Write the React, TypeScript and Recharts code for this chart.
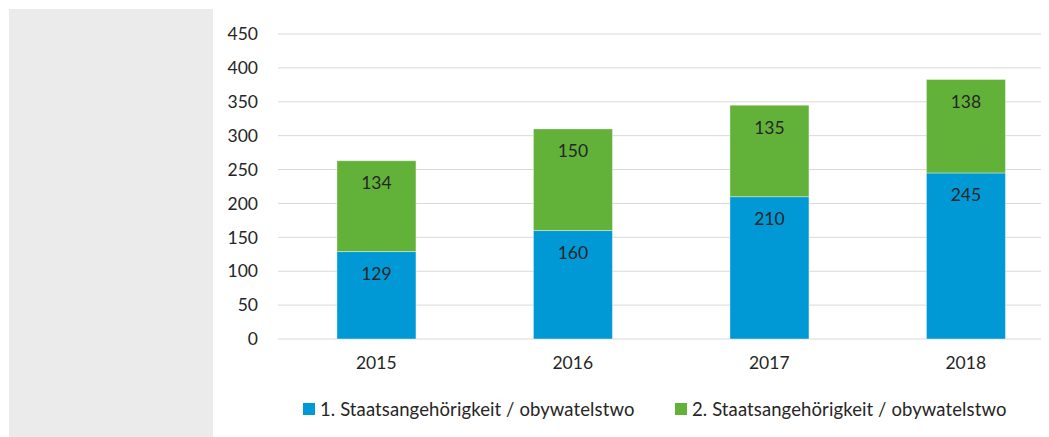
import { Bar, BarChart, CartesianGrid, LabelList, Legend, XAxis, YAxis } from "recharts";

const years = ["2015", "2016", "2017", "2018"];
const firstCitizenship = [129, 160, 210, 245];
const secondCitizenship = [134, 150, 135, 138];
const yTicks = [0, 50, 100, 150, 200, 250, 300, 350, 400, 450];

const seriesNames = {
  first: "1. Staatsangehörigkeit / obywatelstwo",
  second: "2. Staatsangehörigkeit / obywatelstwo",
};

const BLUE = "#0099D6";
const GREEN = "#62B23A";
const TEXT = "#262626";
const FONT = "Lato, 'Open Sans', sans-serif";

const chartData = years.map((year, i) => ({
  year,
  first: firstCitizenship[i],
  second: secondCitizenship[i],
}));

function LegendRow() {
  const items = [
    { name: seriesNames.first, color: BLUE },
    { name: seriesNames.second, color: GREEN },
  ];
  return (
    <div style={{ display: "flex", alignItems: "center", height: 58, paddingLeft: 295, boxSizing: "border-box", paddingTop: 2 }}>
      {items.map((it, i) => (
        <div key={it.name} style={{ display: "flex", alignItems: "center", width: i === 0 ? 372 : "auto" }}>
          <span style={{ width: 12, height: 12, background: it.color, display: "inline-block", marginRight: 5, flexShrink: 0 }} />
          <span style={{ fontFamily: FONT, fontSize: 18.5, letterSpacing: 0.1, color: TEXT, whiteSpace: "nowrap" }}>{it.name}</span>
        </div>
      ))}
    </div>
  );
}

export default function App() {
  return (
    <div style={{ position: "relative", width: 1041, height: 429, overflow: "hidden", background: "#fff" }}>
      <div style={{ position: "absolute", left: 1, top: 1, width: 204, height: 428, background: "#EBEBEB" }} />
      <div style={{ position: "absolute", left: 0, top: 0 }}>
        <BarChart
          width={1100}
          height={429}
          data={chartData}
          margin={{ top: 26, right: 44, left: 0, bottom: 0 }}
          barCategoryGap="30%"
        >
          <CartesianGrid vertical={false} stroke="#D9D9D9" />
          <XAxis
            dataKey="year"
            height={40}
            axisLine={false}
            tickLine={false}
            tickMargin={12}
            tick={{ fill: TEXT, fontSize: 17.5, fontFamily: FONT }}
          />
          <YAxis
            width={270}
            domain={[0, 450]}
            ticks={yTicks}
            axisLine={false}
            tickLine={false}
            tickMargin={14}
            tick={{ fill: TEXT, fontSize: 17.5, fontFamily: FONT }}
          />
          <Legend verticalAlign="bottom" wrapperStyle={{ left: 0, width: 1100, height: 58 }} content={() => <LegendRow />} />
          <Bar dataKey="first" name={seriesNames.first} stackId="a" fill={BLUE} stroke="#ffffff" strokeOpacity={0.5} strokeWidth={0.75} isAnimationActive={false}>
            <LabelList dataKey="first" position="insideTop" offset={16} fill={TEXT} fontSize={17.5} fontFamily={FONT} />
          </Bar>
          <Bar dataKey="second" name={seriesNames.second} stackId="a" fill={GREEN} stroke="#ffffff" strokeOpacity={0.5} strokeWidth={0.75} isAnimationActive={false}>
            <LabelList dataKey="second" position="insideTop" offset={16} fill={TEXT} fontSize={17.5} fontFamily={FONT} />
          </Bar>
        </BarChart>
      </div>
    </div>
  );
}
